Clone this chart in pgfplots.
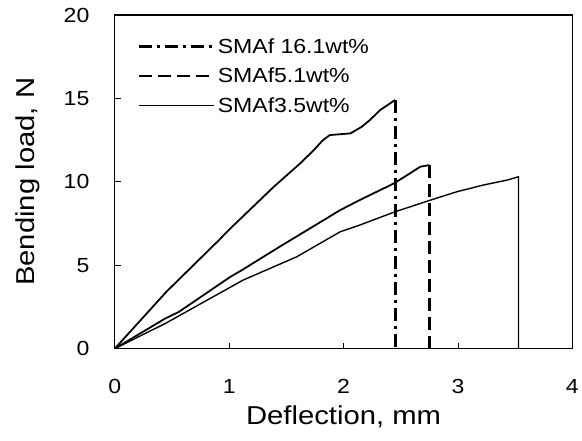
\documentclass[border=0pt]{standalone}
\usepackage{fontspec}
\setmainfont{Liberation Sans}[FakeStretch=1.13]
\usepackage{pgfplots}
\pgfplotsset{compat=1.18}

\begin{document}
\begin{tikzpicture}
\begin{axis}[
    scale only axis,
    width=458bp, height=334bp,
    xmin=0, xmax=4, ymin=0, ymax=20,
    xtick={0,1,2,3,4}, ytick={0,5,10,15,20},
    tick align=inside,
    xtick pos=bottom, ytick pos=left,
    major tick length=6bp,
    tick style={black, line width=0.8pt},
    axis line style={black, line width=1.2pt},
    /pgf/number format/assume math mode=true,
    ticklabel style={font=\fontsize{20.5}{24}\selectfont},
    xticklabel style={yshift=-27bp},
    yticklabel style={xshift=-22bp},
    xlabel={Deflection, mm},
    ylabel={Bending load, N},
    label style={font=\fontsize{26}{30}\selectfont},
    xlabel style={at={(axis description cs:0.5,-0.204)}, anchor=center},
    ylabel style={at={(axis description cs:-0.19,0.5)}, anchor=center},
    legend cell align=left,
    legend style={at={(axis description cs:0.05,0.935)}, anchor=north west,
      draw=none, fill=none, font=\fontsize{20.5}{24}\selectfont,
      row sep=9bp, inner sep=0pt},
    legend image code/.code={\draw[#1] (0bp,0bp) -- (75bp,0bp);},
]
% SMAf 16.1wt%
\addplot[black, line width=1.8pt, forget plot] coordinates {
  (0,0) (0.45,3.4) (0.91,6.5) (1.01,7.2) (1.39,9.7) (1.62,11.1)
  (1.74,11.9) (1.82,12.5) (1.88,12.8) (2.06,12.9) (2.16,13.3)
  (2.23,13.7) (2.32,14.3) (2.45,14.9)};
\addplot[black, line width=3pt, dash pattern=on 13bp off 5bp on 3bp off 5bp] coordinates {
  (2.45,14.9) (2.45,0)};
% SMAf5.1wt%
\addplot[black, line width=1.8pt, forget plot] coordinates {
  (0,0) (0.44,1.8) (0.56,2.2) (1.01,4.3) (1.11,4.7) (1.44,6.1)
  (1.85,7.8) (1.97,8.3) (2.14,8.9) (2.44,9.9) (2.58,10.5)
  (2.67,10.9) (2.75,11.0)};
\addplot[black, line width=2.6pt, dash pattern=on 13bp off 6bp] coordinates {
  (2.75,11.0) (2.75,0)};
% SMAf3.5wt%
\addplot[black, line width=1.4pt] coordinates {
  (0,0) (0.44,1.5) (1.12,4.1) (1.59,5.5) (1.97,7.0) (2.14,7.4)
  (2.45,8.2) (2.76,8.9) (2.99,9.4) (3.22,9.8) (3.43,10.1)
  (3.53,10.3) (3.53,0)};
\legend{SMAf 16.1wt\%, SMAf5.1wt\%, SMAf3.5wt\%}
\end{axis}
\path[use as bounding box] ([shift={(-115bp,-92bp)}]current axis.south west)
  rectangle ([shift={(9bp,15bp)}]current axis.north east);
\end{tikzpicture}
\end{document}
